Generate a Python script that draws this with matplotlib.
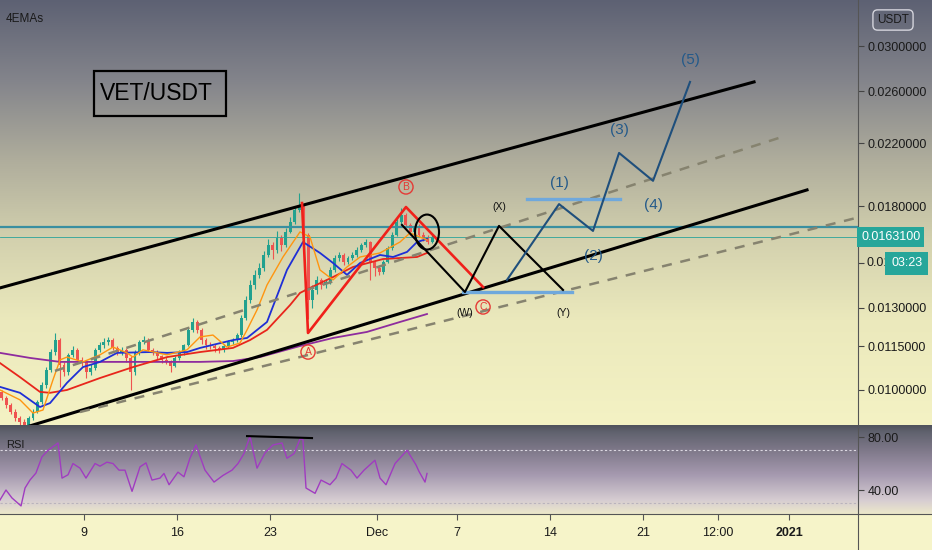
import numpy as np
import matplotlib.pyplot as plt
from matplotlib import font_manager
from matplotlib.patches import Rectangle, Ellipse
from matplotlib.lines import Line2D
from matplotlib.ticker import FixedLocator, NullLocator, NullFormatter, FormatStrFormatter, FuncFormatter
import matplotlib.transforms as mtransforms

names = {f.name for f in font_manager.fontManager.ttflist}
main_font = 'Liberation Sans Narrow' if 'Liberation Sans Narrow' in names else 'Liberation Sans'
plt.rcParams['font.family'] = [main_font, 'DejaVu Sans']

# ---- candles (8h bars, day 0 = 1 Nov 2020) ----
start_day = 1.5
bars_per_day = 3
first_open = 0.01005
close = np.array([
    0.00994, 0.00975, 0.00953, 0.00932, 0.00914, 0.00903, 0.00894, 0.00914, 0.00932, 0.00962,
    0.01016, 0.01066, 0.01129, 0.01173, 0.01083, 0.01059, 0.01119, 0.01137, 0.01101, 0.01094,
    0.01059, 0.01073, 0.01137, 0.01155, 0.01166, 0.01173, 0.01144, 0.01129, 0.01137, 0.01108,
    0.01059, 0.01129, 0.01166, 0.01173, 0.01137, 0.01129, 0.01115, 0.01101, 0.01094, 0.01080,
    0.01108, 0.01129, 0.01155, 0.01212, 0.01243, 0.01212, 0.01173, 0.01155, 0.01151, 0.01144,
    0.01137, 0.01151, 0.01166, 0.01173, 0.01192, 0.01259, 0.01334, 0.01399, 0.01445, 0.01477,
    0.01540, 0.01590, 0.01565, 0.01626, 0.01590, 0.01658, 0.01711, 0.01778, 0.01807, 0.01642,
    0.01334, 0.01377, 0.01422, 0.01399, 0.01413, 0.01468, 0.01525, 0.01540, 0.01506, 0.01525,
    0.01540, 0.01565, 0.01590, 0.01605, 0.01506, 0.01477, 0.01459, 0.01506, 0.01575, 0.01642,
    0.01711, 0.01750, 0.01695, 0.01658, 0.01690, 0.01642, 0.01626, 0.01605, 0.01631])
high = np.array([
    0.01012, 0.01000, 0.00982, 0.00960, 0.00940, 0.00920, 0.00910, 0.00920, 0.00940, 0.00970,
    0.01025, 0.01075, 0.01140, 0.01200, 0.01180, 0.01095, 0.01125, 0.01150, 0.01145, 0.01110,
    0.01100, 0.01085, 0.01145, 0.01165, 0.01180, 0.01185, 0.01180, 0.01150, 0.01148, 0.01142,
    0.01115, 0.01135, 0.01175, 0.01190, 0.01180, 0.01145, 0.01135, 0.01120, 0.01110, 0.01100,
    0.01115, 0.01135, 0.01160, 0.01220, 0.01259, 0.01250, 0.01220, 0.01180, 0.01165, 0.01160,
    0.01150, 0.01158, 0.01172, 0.01180, 0.01200, 0.01270, 0.01350, 0.01420, 0.01470, 0.01500,
    0.01560, 0.01620, 0.01605, 0.01660, 0.01640, 0.01680, 0.01740, 0.01800, 0.01878, 0.01815,
    0.01650, 0.01400, 0.01440, 0.01430, 0.01425, 0.01480, 0.01540, 0.01555, 0.01550, 0.01535,
    0.01555, 0.01580, 0.01600, 0.01620, 0.01610, 0.01515, 0.01490, 0.01515, 0.01585, 0.01655,
    0.01725, 0.01790, 0.01760, 0.01705, 0.01700, 0.01700, 0.01655, 0.01640, 0.01640])
low = np.array([
    0.00980, 0.00968, 0.00945, 0.00925, 0.00905, 0.00890, 0.00880, 0.00888, 0.00908, 0.00928,
    0.00955, 0.01005, 0.01060, 0.01120, 0.01010, 0.01045, 0.01050, 0.01110, 0.01090, 0.01080,
    0.01040, 0.01050, 0.01065, 0.01130, 0.01145, 0.01155, 0.01135, 0.01120, 0.01120, 0.01095,
    0.01000, 0.01050, 0.01120, 0.01160, 0.01130, 0.01120, 0.01105, 0.01090, 0.01085, 0.01060,
    0.01075, 0.01100, 0.01120, 0.01150, 0.01205, 0.01200, 0.01160, 0.01140, 0.01140, 0.01130,
    0.01125, 0.01130, 0.01145, 0.01160, 0.01165, 0.01185, 0.01250, 0.01320, 0.01380, 0.01430,
    0.01465, 0.01530, 0.01520, 0.01550, 0.01560, 0.01580, 0.01650, 0.01700, 0.01765, 0.01620,
    0.01255, 0.01300, 0.01360, 0.01380, 0.01385, 0.01405, 0.01460, 0.01510, 0.01490, 0.01495,
    0.01515, 0.01530, 0.01555, 0.01580, 0.01420, 0.01440, 0.01445, 0.01450, 0.01500, 0.01565,
    0.01635, 0.01700, 0.01680, 0.01640, 0.01645, 0.01630, 0.01610, 0.01595, 0.01598])

# ---- 4 EMAs ----
ema_orange_day = [1.69, 3.19, 4.17, 4.92, 5.67, 6.20, 6.72, 7.92, 9.20, 10.18, 11.23, 11.68, 12.43,
                  14.24, 15.74, 16.72, 17.69, 18.74, 19.72, 20.25, 21.00, 21.75, 22.95, 24.23,
                  24.98, 25.73, 26.71, 27.76, 28.74, 30.24, 31.74, 32.49, 33.24, 33.77]
ema_orange = [0.01000, 0.00969, 0.00929, 0.00938, 0.01033, 0.01101, 0.01111, 0.01094, 0.01119,
              0.01147, 0.01126, 0.01111, 0.01137, 0.01119, 0.01137, 0.01185, 0.01192, 0.01147,
              0.01162, 0.01212, 0.01292, 0.01399, 0.01530, 0.01658, 0.01631, 0.01468, 0.01422,
              0.01482, 0.01530, 0.01550, 0.01605, 0.01652, 0.01631, 0.01616]
ema_blue_day = [1.69, 3.19, 4.69, 5.45, 6.72, 7.92, 9.20, 10.48, 12.96, 14.24, 15.74, 16.72, 19.19,
                20.25, 21.75, 23.25, 24.45, 25.73, 26.71, 27.76, 28.74, 30.24, 31.22, 32.27,
                33.02, 33.77]
ema_blue = [0.01010, 0.00991, 0.00947, 0.00959, 0.01023, 0.01076, 0.01094, 0.01126, 0.01129,
            0.01126, 0.01129, 0.01144, 0.01173, 0.01181, 0.01243, 0.01468, 0.01605, 0.01550,
            0.01501, 0.01445, 0.01501, 0.01540, 0.01530, 0.01555, 0.01605, 0.01621]
ema_red_day = [1.69, 3.19, 4.69, 5.45, 6.72, 9.20, 11.68, 14.24, 16.72, 19.19, 20.47, 21.75,
               23.48, 24.23, 24.98, 26.71, 28.21, 30.46, 33.02, 33.77]
ema_red = [0.01090, 0.01042, 0.00994, 0.00991, 0.01000, 0.01039, 0.01076, 0.01111, 0.01129,
           0.01144, 0.01173, 0.01212, 0.01312, 0.01364, 0.01386, 0.01435, 0.01482, 0.01520,
           0.01530, 0.01550]
ema_purple_day = [1.69, 3.94, 6.20, 9.20, 12.96, 16.72, 19.19, 21.22, 24.23, 26.71, 29.26,
                  31.74, 33.77]
ema_purple = [0.01126, 0.01108, 0.01094, 0.01094, 0.01094, 0.01094, 0.01097, 0.01111, 0.01151,
              0.01181, 0.01204, 0.01243, 0.01275]

# ---- RSI ----
rsi_day = [1.69, 2.14, 2.59, 3.27, 3.57, 3.94, 4.39, 4.84, 5.30, 6.05, 6.35, 6.80, 7.17, 7.70,
           8.15, 8.83, 9.20, 9.72, 10.18, 10.63, 11.08, 11.61, 12.21, 12.66, 13.11, 13.71, 14.01,
           14.39, 15.06, 15.51, 15.96, 16.41, 17.09, 17.77, 18.44, 19.12, 19.57, 20.02, 20.47,
           21.00, 21.60, 22.20, 22.88, 23.25, 23.78, 24.23, 24.45, 24.68, 25.36, 25.81, 26.48,
           26.93, 27.38, 28.06, 28.51, 29.04, 29.86, 30.24, 30.69, 31.37, 32.27, 32.94, 33.17,
           33.62, 33.77]
rsi_val = [32.5, 40, 34, 28, 41.5, 47.5, 52.8, 65, 70, 75.5, 49, 51.5, 60, 56.5,
           49, 60, 58, 61, 60, 55, 55, 39, 57.5, 60.5, 47.5, 49, 52.5,
           44, 53.5, 50, 64, 74, 55, 46, 51, 55, 60, 67.5, 80.5,
           56.5, 68, 74, 75.5, 64, 67.5, 78.5, 78, 41.5, 37.5, 47.5, 44,
           49, 60, 55, 49, 55, 62.5, 49, 44, 60, 70, 59, 54,
           46, 52.5]
rsi_div_day = [20.25, 25.13]
rsi_div_val = [80.7, 79.2]

# ---- drawings ----
upper_chan_day = [1.69, 58.34]
upper_chan = [0.01386, 0.02678]
lower_chan_day = [1.69, 62.32]
lower_chan = [0.00866, 0.01896]
upper_dash_day = [5.82, 60.44]
upper_dash = [0.01063, 0.02246]
lower_dash_day = [7.70, 66.15]
lower_dash = [0.00932, 0.01736]
level_line = 0.01684
last_price = 0.01631

abc_day = [24.38, 24.83, 32.19, 37.98]
abc = [0.01818, 0.01200, 0.01795, 0.01390]
abc_labels = ['A', 'B', 'C']
abc_lab_day = [24.83, 32.19, 37.98]
abc_lab = [0.01129, 0.01914, 0.01304]

wxy_day = [31.89, 36.62, 39.18, 43.99]
wxy = [0.01695, 0.01368, 0.01690, 0.01377]
wxy_labels = ['(W)', '(X)', '(Y)']
wxy_lab_day = [36.62, 39.18, 43.99]
wxy_lab = [0.01279, 0.01795, 0.01279]

imp_day = [39.78, 43.69, 46.24, 48.20, 50.75, 53.53]
imp = [0.01422, 0.01812, 0.01663, 0.02134, 0.01952, 0.02678]
imp_labels = ['(1)', '(2)', '(3)', '(4)', '(5)']
imp_lab_day = [43.69, 46.24, 48.20, 50.75, 53.53]
imp_lab = [0.01940, 0.01535, 0.02297, 0.01806, 0.02873]

w_level_day = [36.47, 44.66]
w_level = 0.01368
one_level_day = [41.28, 48.27]
one_level = 0.01842

price_ticks = [0.0100, 0.0115, 0.0130, 0.0150, 0.0180, 0.0220, 0.0260, 0.0300]
hidden_tick = 0.0150          # its label sits under the countdown tag
time_tick_day = [8, 15, 22, 30, 36, 43, 50, 55.6, 61]
time_tick_label = ['9', '16', '23', 'Dec', '7', '14', '21', '12:00', '2021']

W, H = 932, 550
fig = plt.figure(figsize=(W / 100, H / 100), dpi=100)

# background gradient (main pane / rsi pane / time axis)
stops_y = [0, 80, 160, 240, 320, 424.5, 425.5, 432, 450, 475, 500, 513.5, 514.5, 550]
stops_c = ['#5d6173', '#83848b', '#afad9c', '#d3d1ae', '#ebe9bc', '#f4f2c4',
           '#4f525c', '#60626e', '#7e7889', '#a69ab0', '#d6ccd2', '#ece8ca',
           '#f6f4c9', '#f6f4c9']
rgb = np.array([[int(c[i:i + 2], 16) for i in (1, 3, 5)] for c in stops_c]) / 255
rows = np.arange(H) + 0.5
img = np.stack([np.interp(rows, stops_y, rgb[:, k]) for k in range(3)], axis=-1)[:, None, :]
bg = fig.add_axes([0, 0, 1, 1])
bg.imshow(img, aspect='auto', extent=[0, 1, 0, 1])
bg.axis('off')

xlim = (1.69, 66.15)
ax = fig.add_axes([0, 1 - 425 / H, 858 / W, 425 / H])
ax.set_facecolor('none')
ax.set_yscale('log')
ax.set_xlim(*xlim)
ax.set_ylim(0.008941, 0.03480)

# candles
opens = np.r_[first_open, close[:-1]]
cd = start_day + np.arange(len(close)) / bars_per_day
col = np.where(close >= opens, '#22a18f', '#ef5350')
ax.vlines(cd, low, high, colors=col, lw=0.8, zorder=2)
ax.bar(cd, np.abs(close - opens), bottom=np.minimum(close, opens), width=0.22,
       color=col, lw=0, zorder=2)

ax.plot(ema_purple_day, ema_purple, color='#8e2c9e', lw=1.3, zorder=3)
ax.plot(ema_red_day, ema_red, color='#e8261c', lw=1.3, zorder=3)
ax.plot(ema_blue_day, ema_blue, color='#1f2fd6', lw=1.3, zorder=3)
ax.plot(ema_orange_day, ema_orange, color='#ff9510', lw=1.0, zorder=3)

# channel and levels
ax.axhline(level_line, color='#3a8fa0', lw=1.6, zorder=2)
ax.axhline(last_price, color='#2aa39a', lw=0.6, zorder=2)
ax.plot(upper_chan_day, upper_chan, color='black', lw=2.2, zorder=4)
ax.plot(lower_chan_day, lower_chan, color='black', lw=2.2, zorder=4)
ax.plot(upper_dash_day, upper_dash, color='#86836f', lw=1.8, ls=(0, (4, 3.5)), zorder=4)
ax.plot(lower_dash_day, lower_dash, color='#86836f', lw=1.8, ls=(0, (4, 3.5)), zorder=4)

# waves
ax.plot(abc_day, abc, color='#f0201a', lw=1.9, zorder=5)
for d, p, s in zip(abc_lab_day, abc_lab, abc_labels):
    ax.text(d, p, s, color='#e53935', fontsize=7.5, ha='center', va='center', zorder=6,
            bbox=dict(boxstyle='circle,pad=0.2', fc='none', ec='#e53935', lw=1))
ax.plot(w_level_day, [w_level] * 2, color='#6fa8dc', lw=2.4, zorder=4)
ax.plot(one_level_day, [one_level] * 2, color='#6fa8dc', lw=2.4, zorder=4)
ax.plot(wxy_day, wxy, color='black', lw=1.5, zorder=5)
for d, p, s in zip(wxy_lab_day, wxy_lab, wxy_labels):
    ax.text(d, p, s, color='#111', fontsize=7.5, ha='center', va='center', zorder=6)
ax.plot(imp_day, imp, color='#1f4f7c', lw=1.5, zorder=5)
for d, p, s in zip(imp_lab_day, imp_lab, imp_labels):
    ax.text(d, p, s, color='#245a8a', fontsize=11, ha='center', va='center', zorder=6)

# circle round the last bars
cx, cy = ax.transAxes.inverted().transform(ax.transData.transform((33.77, 0.01657)))
ax.add_patch(Ellipse((cx, cy), 24 / 858, 35 / 425, transform=ax.transAxes,
                     fc='none', ec='black', lw=1.5, zorder=6))

# title box
ax.add_patch(Rectangle((8.75, 0.02402), 9.92, 0.00372, fc='none', ec='black', lw=1.6, zorder=6))
ax.text(9.2, 0.02577, 'VET/USDT', fontsize=16.5, color='black', ha='left', va='center', zorder=6)
ax.text(6 / 858, 1 - 19 / 425, '4EMAs', transform=ax.transAxes, fontsize=8.5,
        color='#1a1a1a', ha='left', va='center')

# price axis
ax.yaxis.tick_right()
ax.yaxis.set_major_locator(FixedLocator(price_ticks))
ax.yaxis.set_minor_locator(NullLocator())
ax.yaxis.set_major_formatter(FuncFormatter(lambda v, pos: '' if abs(v - hidden_tick) < 1e-9 else '%.7f' % v))
ax.yaxis.set_minor_formatter(NullFormatter())
ax.tick_params(axis='y', direction='out', length=4, width=0.8, color='#444',
               labelsize=9, labelcolor='#1a1a1a', pad=3)
ax.set_xticks([])
for s in ('left', 'top', 'bottom'):
    ax.spines[s].set_visible(False)
ax.spines['right'].set_color('#555')
ax.spines['right'].set_linewidth(0.8)

tr = mtransforms.blended_transform_factory(ax.transAxes, ax.transData)
ax.text(1 + 9 / 858, hidden_tick, '0.01', transform=tr, ha='left', va='center',
        color='#1a1a1a', fontsize=9, clip_on=False)
ax.text(1 + 3 / 858, last_price, '0.0163100', transform=tr, ha='left', va='center',
        color='white', fontsize=9, zorder=8, clip_on=False,
        bbox=dict(boxstyle='square,pad=0.3', fc='#26a69a', ec='none'))
ax.text(1 + 33 / 858, 0.01499, '03:23', transform=tr, ha='left', va='center',
        color='white', fontsize=9, zorder=8, clip_on=False,
        bbox=dict(boxstyle='square,pad=0.45', fc='#26a69a', ec='none'))
fig.text(893 / W, 1 - 20 / H, 'USDT', ha='center', va='center', fontsize=8.5, color='#1a1a1a',
         bbox=dict(boxstyle='round,pad=0.35,rounding_size=0.4', fc='none', ec='#d4d4dc', lw=1))

# RSI pane
rsi = fig.add_axes([0, 1 - 514 / H, 858 / W, 86 / H])
rsi.set_facecolor('none')
rsi.set_xlim(*xlim)
rsi.set_ylim(21.9, 86.8)
rsi.axhline(70, color='#dcd8e2', lw=0.8, ls=(0, (2, 2)))
rsi.axhline(30, color='#b9b3bd', lw=0.8, ls=(0, (2, 2)))
rsi.plot(rsi_day, rsi_val, color='#a03cc0', lw=1.0)
rsi.plot(rsi_div_day, rsi_div_val, color='black', lw=1.5)
rsi.text(6 / 858, 0.8, 'RSI', transform=rsi.transAxes, fontsize=8, color='#1a1a1a',
         ha='left', va='center')
rsi.yaxis.tick_right()
rsi.set_yticks([40, 80])
rsi.yaxis.set_major_formatter(FormatStrFormatter('%.2f'))
rsi.tick_params(axis='y', direction='out', length=4, width=0.8, color='#444',
                labelsize=9, labelcolor='#1a1a1a', pad=3)
rsi.set_xticks(time_tick_day)
rsi.set_xticklabels(time_tick_label)
rsi.tick_params(axis='x', direction='out', length=4, width=0.8, color='#555',
                labelsize=9, labelcolor='#1a1a1a', pad=5)
rsi.get_xticklabels()[-1].set_fontweight('bold')
for s in ('left', 'top', 'bottom'):
    rsi.spines[s].set_visible(False)
rsi.spines['right'].set_color('#555')
rsi.spines['right'].set_linewidth(0.8)

# pane borders
fig.add_artist(Line2D([0, 1], [1 - 514 / H] * 2, transform=fig.transFigure, color='#555', lw=0.8))
fig.add_artist(Line2D([858 / W] * 2, [0, 1 - 514 / H], transform=fig.transFigure,
                      color='#555', lw=0.8))

fig.savefig('out.png', dpi=100)
